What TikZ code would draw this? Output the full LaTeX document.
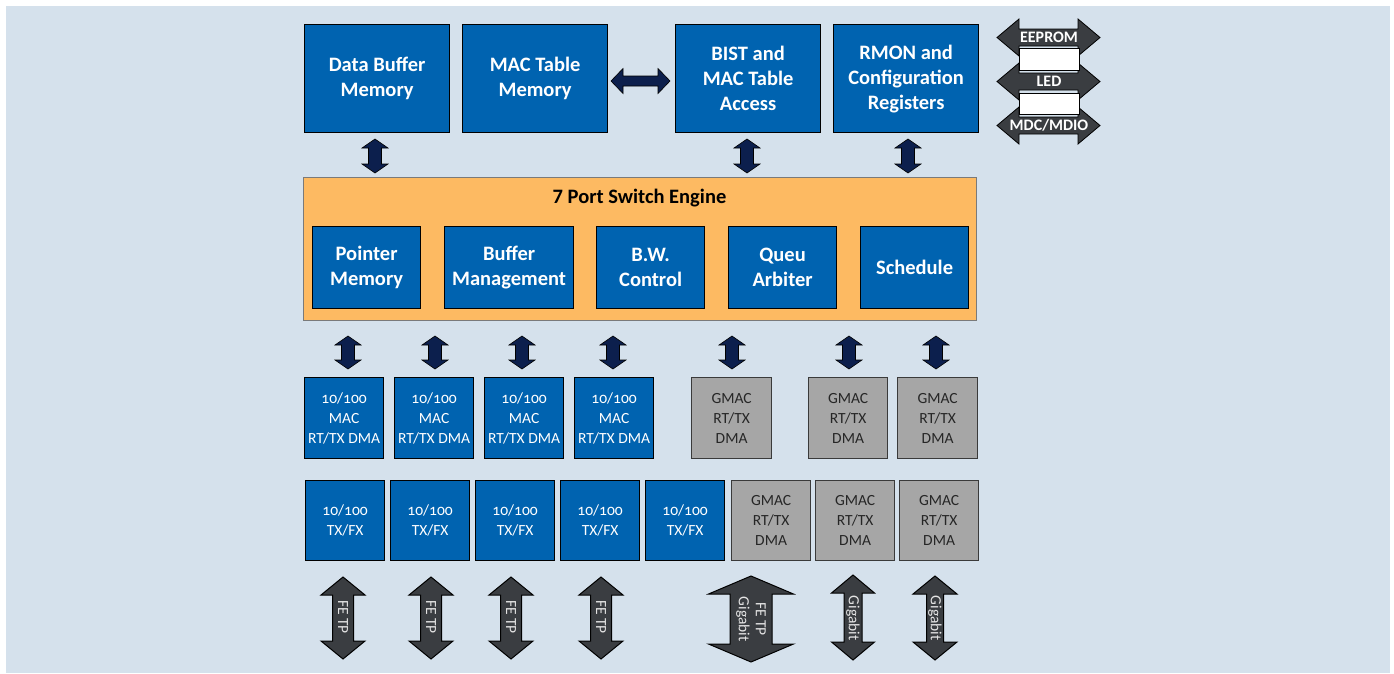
\documentclass[tikz,border=0pt]{standalone}
\usepackage{fontspec}
\setmainfont{Carlito}
\newfontfamily\figfont[Numbers=OldStyle]{Carlito}
\usetikzlibrary{calc}

\definecolor{pagebg}{HTML}{D5E1EC}
\definecolor{boxblue}{HTML}{0063B0}
\definecolor{boxgray}{HTML}{A6A6A6}
\definecolor{grayline}{HTML}{3A3A3A}
\definecolor{engineorange}{HTML}{FDBA62}
\definecolor{engineline}{HTML}{7A7A7A}
\definecolor{navyarrow}{HTML}{0C1F4D}
\definecolor{darkarrow}{HTML}{3A3D41}
\definecolor{arrowtext}{HTML}{E4E4E4}

% vertical double block arrow: style, x, top y, bottom y, half head, half shaft, head length
\newcommand\vblockarrow[7]{%
  \draw[#1] (#2,#3) -- (#2+#5,#3+#7) -- (#2+#6,#3+#7) -- (#2+#6,#4-#7)
    -- (#2+#5,#4-#7) -- (#2,#4) -- (#2-#5,#4-#7) -- (#2-#6,#4-#7)
    -- (#2-#6,#3+#7) -- (#2-#5,#3+#7) -- cycle;}
% horizontal double block arrow: style, left x, right x, y, half head, half shaft, head length
\newcommand\hblockarrow[7]{%
  \draw[#1] (#2,#4) -- (#2+#7,#4-#5) -- (#2+#7,#4-#6) -- (#3-#7,#4-#6)
    -- (#3-#7,#4-#5) -- (#3,#4) -- (#3-#7,#4+#5) -- (#3-#7,#4+#6)
    -- (#2+#7,#4+#6) -- (#2+#7,#4+#5) -- cycle;}

\begin{document}
\begin{tikzpicture}[x=1pt,y=-1pt,
  blk/.style={draw=black, line width=1.2pt, fill=boxblue, text=white,
    font=\bfseries\fontsize{20.5}{25}\selectfont, align=center,
    inner sep=0pt, anchor=north west},
  sblk/.style={blk, font=\figfont\fontsize{15.5}{20}\selectfont},
  gblk/.style={sblk, fill=boxgray, draw=grayline, text=black!85},
  navy/.style={fill=navyarrow, draw=black, line width=0.6pt, line join=miter},
  dark/.style={fill=darkarrow, draw=black, line width=1pt, line join=miter},
  armlabel/.style={text=arrowtext, font=\figfont\fontsize{15.5}{17}\selectfont,
    rotate=-90, align=center, inner sep=0pt},
  sidearrow/.style={fill=darkarrow, draw=black, line width=0.8pt, line join=miter},
  sidelabel/.style={text=white, font=\bfseries\fontsize{16}{17}\selectfont, inner sep=0pt},
]
\useasboundingbox (0,0) rectangle (1394,673);
\fill[white] (0,0) rectangle (1394,673);
\fill[pagebg] (6,6) rectangle (1390,673);

% memories and registers
\node[blk, minimum width=145pt, minimum height=108pt] (dbm) at (304,24) {Data Buffer\\Memory};
\node[blk, minimum width=145pt, minimum height=108pt] (mtm) at (462,24) {MAC Table\\Memory};
\node[blk, minimum width=145pt, minimum height=108pt] (bist) at (675,24) {BIST and\\MAC Table\\Access};
\node[blk, minimum width=145pt, minimum height=108pt] (rmon) at (833,24) {RMON and\\Configuration\\Registers};

% switch engine
\node[draw=engineline, line width=0.8pt, fill=engineorange, anchor=north west,
  minimum width=673pt, minimum height=143pt, inner sep=0pt] (engine) at (303,177) {};
\node[font=\bfseries\fontsize{20.5}{25}\selectfont, inner sep=0pt] (title) at (639.5,198) {7 Port Switch Engine};
\node[blk, minimum width=108pt, minimum height=82pt] (ptr) at (312,226) {Pointer\\Memory};
\node[blk, minimum width=129pt, minimum height=82pt] (bufm) at (444,226) {Buffer\\Management};
\node[blk, minimum width=108pt, minimum height=82pt] (bw) at (596,226) {B.W.\\Control};
\node[blk, minimum width=108pt, minimum height=82pt] (queu) at (728,226) {Queu\\Arbiter};
\node[blk, minimum width=108pt, minimum height=82pt] (sched) at (860,226) {Schedule};

% MAC DMA row
\node[sblk, minimum width=79pt, minimum height=81pt] (dma1) at (304,377) {10/100\\MAC\\RT/TX DMA};
\node[sblk, minimum width=79pt, minimum height=81pt] (dma2) at (394,377) {10/100\\MAC\\RT/TX DMA};
\node[sblk, minimum width=79pt, minimum height=81pt] (dma3) at (484,377) {10/100\\MAC\\RT/TX DMA};
\node[sblk, minimum width=79pt, minimum height=81pt] (dma4) at (574,377) {10/100\\MAC\\RT/TX DMA};
\node[gblk, minimum width=80pt, minimum height=81pt] (gdma1) at (691,377) {GMAC\\RT/TX\\DMA};
\node[gblk, minimum width=79pt, minimum height=81pt] (gdma2) at (808,377) {GMAC\\RT/TX\\DMA};
\node[gblk, minimum width=80pt, minimum height=81pt] (gdma3) at (897,377) {GMAC\\RT/TX\\DMA};

% PHY row
\node[sblk, minimum width=79pt, minimum height=80pt] (phy1) at (305,480) {10/100\\TX/FX};
\node[sblk, minimum width=79pt, minimum height=80pt] (phy2) at (390,480) {10/100\\TX/FX};
\node[sblk, minimum width=79pt, minimum height=80pt] (phy3) at (475,480) {10/100\\TX/FX};
\node[sblk, minimum width=79pt, minimum height=80pt] (phy4) at (560,480) {10/100\\TX/FX};
\node[sblk, minimum width=79pt, minimum height=80pt] (phy5) at (645,480) {10/100\\TX/FX};
\node[gblk, minimum width=79pt, minimum height=80pt] (gphy1) at (731,480) {GMAC\\RT/TX\\DMA};
\node[gblk, minimum width=79pt, minimum height=80pt] (gphy2) at (815,480) {GMAC\\RT/TX\\DMA};
\node[gblk, minimum width=79pt, minimum height=80pt] (gphy3) at (899,480) {GMAC\\RT/TX\\DMA};

% navy links
\hblockarrow{navy}{611}{670}{81}{12.5}{5}{12}
\vblockarrow{navy}{375}{139}{173}{13}{6.5}{9}
\vblockarrow{navy}{747}{139}{173}{13}{6.5}{9}
\vblockarrow{navy}{908}{139}{173}{13}{6.5}{9}
\foreach \x in {348,435,522,613,732,849,936}
  \vblockarrow{navy}{\x}{336}{369}{13}{6.5}{9};

% line-side arrows
\foreach \x/\n in {343/1,431/2,511/3,601/4}{
  \vblockarrow{dark}{\x}{577}{659}{22}{10.5}{18}
  \node[armlabel] (fe\n) at (\x,617) {FE TP};
}
\vblockarrow{dark}{751}{576}{662}{42.5}{21}{18}
\node[armlabel] (fegig) at (751,619) {FE TP\\Gigabit};
\vblockarrow{dark}{853}{575}{660}{21.5}{9}{18}
\node[armlabel] (gig1) at (853,618) {Gigabit};
\vblockarrow{dark}{935}{576}{660}{22}{8.5}{18}
\node[armlabel] (gig2) at (935,618) {Gigabit};

% management interfaces
\foreach \y/\t/\n in {37.5/EEPROM/eeprom,81.5/LED/led,125.5/MDC\slash MDIO/mdc}{
  \hblockarrow{sidearrow}{997}{1100}{\y}{18.5}{8.5}{22}
  \node[sidelabel] (\n) at (1049,\y) {\t};
}
\draw[fill=white, draw=black, line width=0.8pt] (1019,48.5) rectangle (1079,70);
\draw[fill=white, draw=black, line width=0.8pt] (1019,93) rectangle (1079,114);
\end{tikzpicture}
\end{document}
